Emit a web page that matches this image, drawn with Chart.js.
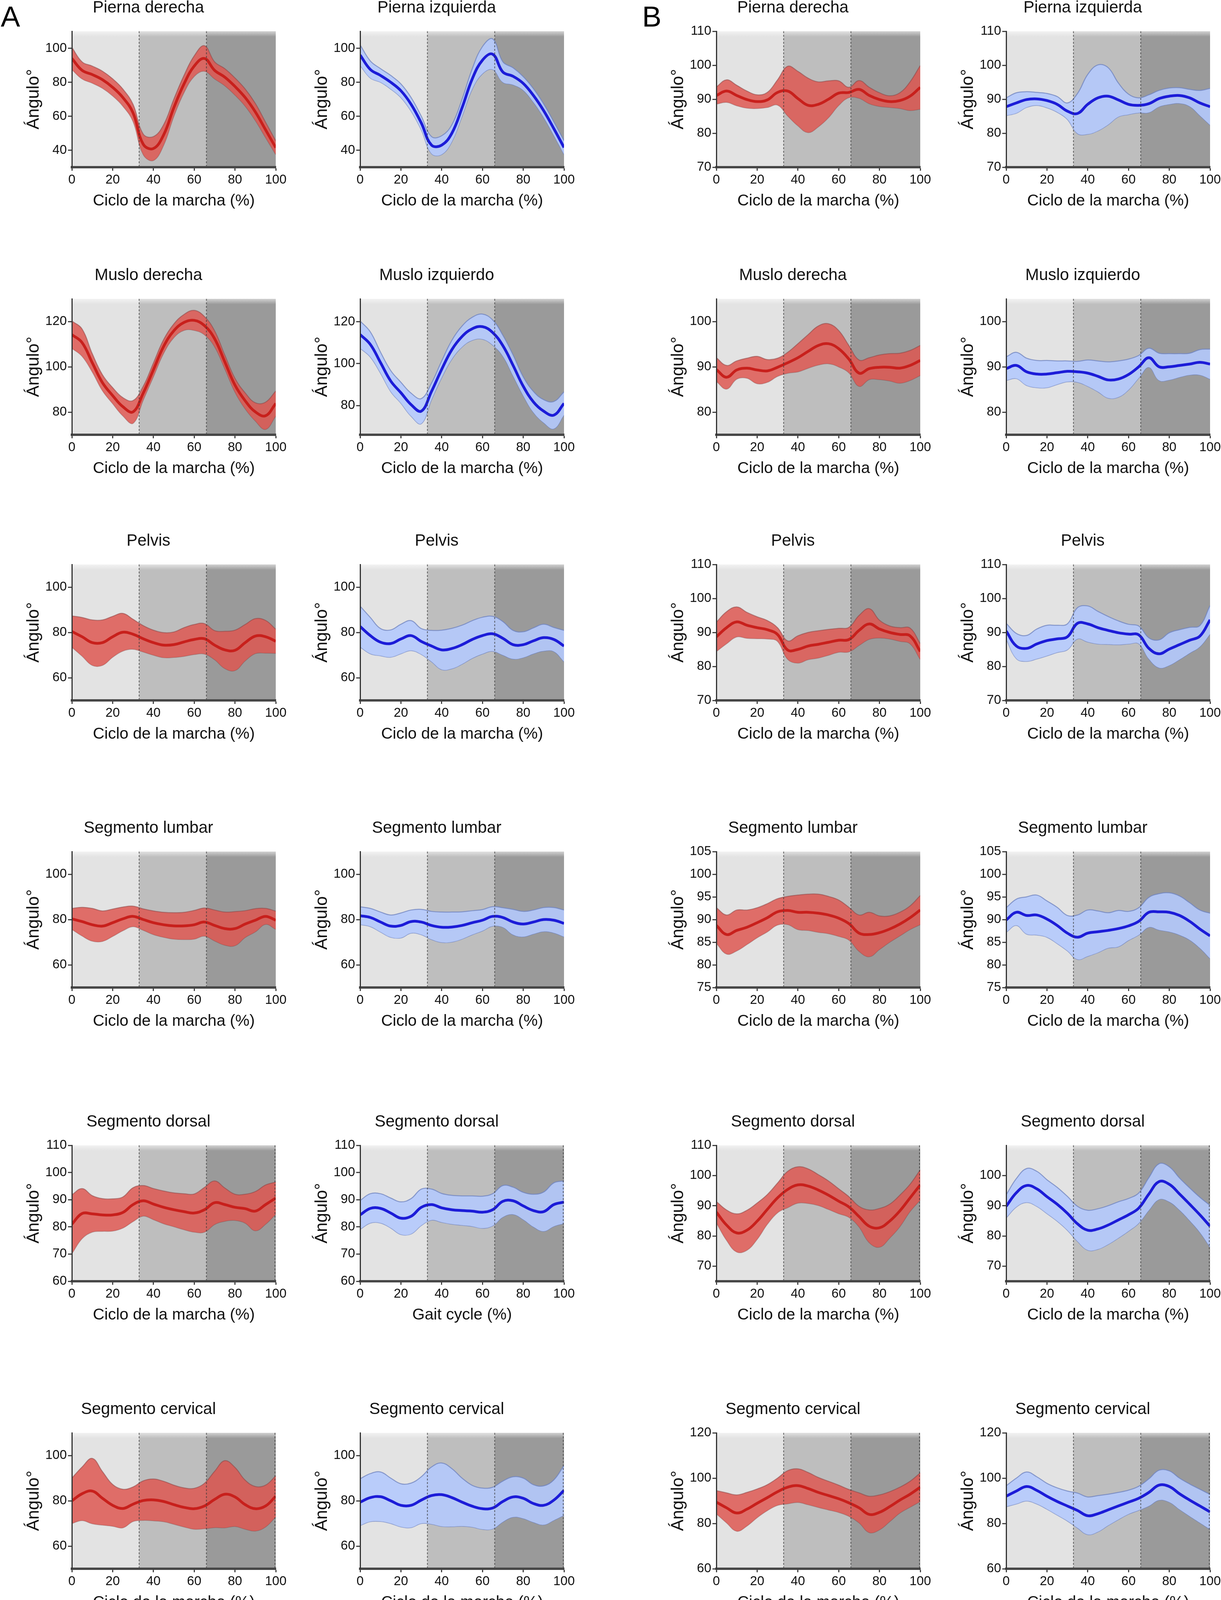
<!DOCTYPE html>
<html>
<head>
<meta charset="utf-8">
<title>Ángulo segmentario durante el ciclo de la marcha</title>
<script src="https://cdn.jsdelivr.net/npm/chart.js@4.4.1/dist/chart.umd.min.js"></script>
<style>
  html, body { margin: 0; padding: 0; background: #fff; }
  body { width: 3126px; height: 4132px; position: relative; overflow: hidden; font-family: "Liberation Sans", Arial, sans-serif; }
  .panel { position: absolute; }
  .letter { position: absolute; font-size: 74px; line-height: 1; color: #000; }
</style>
</head>
<body>
<div class="letter" style="left:2px;top:6px">A</div>
<div class="letter" style="left:1644px;top:6px">B</div>
<script>
"use strict";

// gait cycle (%) sampled every 5 %
const cycle = [0, 5, 10, 15, 20, 25, 30, 35, 40, 45, 50, 55, 60, 65, 70, 75, 80, 85, 90, 95, 100];
// phase boundaries of the gait cycle (%)
const phaseBounds = [0, 33, 66, 100];

// --- mean and SD, degrees (red = right, blue = left) ---
const legRightA = [94, 87, 84.5, 81.5, 77, 71, 62, 43.5, 41, 49, 65, 79, 89.5, 94, 87, 83, 77.5, 71, 62.5, 52, 41.5];
const legRightASd = [6.5, 5, 5, 5, 5, 5, 5, 6, 7, 6, 5, 5, 6, 7.5, 5, 5, 5, 5, 5, 4.5, 4];
const legLeftA = [96, 87.5, 84, 80, 75, 67, 56, 43, 43, 50, 65, 82, 93, 96.5, 86, 83.5, 79.3, 72.2, 63.3, 52.7, 41.6];
const legLeftASd = [6, 5, 4, 4, 4, 4, 4, 5, 5.5, 5, 5, 6, 8, 9, 6, 5, 4, 4, 4, 4, 4];
const legRightB = [91.1, 92.4, 91.1, 89.9, 89.3, 89.8, 92, 92.4, 90.2, 88.2, 88.5, 90, 91.8, 92, 92.9, 91.1, 89.9, 89.3, 89.6, 90.9, 93.5];
const legRightBSd = [2.5, 3.3, 3, 2.5, 2, 2.2, 3.7, 7.3, 8, 8, 6.6, 5.4, 3.6, 1.5, 2.6, 2.4, 2, 1.7, 2.3, 4.2, 6.4];
const legLeftB = [87.8, 88.9, 89.9, 90.1, 89.6, 88.5, 86.5, 85.8, 88.5, 90.4, 90.9, 89.8, 88.5, 88.2, 88.7, 90.2, 90.9, 91.1, 90.4, 88.9, 87.8];
const legLeftBSd = [2.6, 3, 2.3, 1.9, 2.1, 2.3, 2.4, 5.9, 8.8, 9.7, 8.4, 5, 3, 2.2, 2.6, 2.4, 2.4, 2.3, 2.5, 3.7, 5.4];

const thighRightA = [114.2, 110.7, 101.8, 93, 87.3, 82.4, 80.1, 88.4, 98.7, 109, 115.9, 119.6, 120.5, 118.2, 112.4, 102.2, 91.9, 85, 80.1, 78.4, 83.8];
const thighRightASd = [6, 6, 4, 3.5, 3.5, 4, 5, 3, 3, 3, 3, 3.5, 4.4, 4, 3.5, 3, 3, 3.5, 4, 6, 5.5];
const thighLeftA = [113.9, 109.2, 100.5, 91.7, 86.1, 80.4, 77.3, 86.7, 97.3, 106.7, 113, 116.7, 117.7, 114.9, 108.6, 99.2, 89.2, 81.7, 77.3, 75.4, 81];
const thighLeftASd = [6.5, 6, 5, 5, 5, 5.5, 6, 4, 4, 4.5, 5, 5.5, 6, 6, 5, 5, 4.5, 5, 5.5, 6.5, 5.5];
const thighRightB = [89.4, 87.7, 89.3, 89.7, 89.3, 89.1, 89.9, 90.9, 92, 93.4, 94.7, 95.1, 94, 91.7, 88.6, 89.6, 89.9, 89.9, 89.7, 90.3, 91.4];
const thighRightBSd = [2.6, 2.6, 2, 2.2, 3, 2.5, 2, 2.3, 3.1, 3.7, 4.3, 4.4, 4, 3, 2.9, 2.4, 2.7, 3, 3.3, 3.3, 3.3];
const thighLeftB = [89.6, 90.3, 88.9, 88.4, 88.4, 88.7, 89, 88.9, 88.6, 87.9, 87.1, 87.3, 88.3, 90, 92, 90, 90, 90.3, 90.6, 91, 90.6];
const thighLeftBSd = [2.6, 2.9, 3, 3, 3, 2.6, 2.3, 2.3, 2.9, 3.4, 4, 4, 3.4, 2.5, 2.1, 3, 2.9, 2.6, 2.4, 2.8, 3.3];

const pelvisRightA = [80.4, 78.1, 75.5, 75.5, 78.1, 80.1, 79.2, 77.2, 75.5, 74.4, 74.6, 75.8, 76.9, 77.2, 74.4, 72.3, 72.1, 75.5, 78.4, 78.1, 76.1];
const pelvisRightASd = [6.9, 8.5, 10, 10, 9, 8.3, 6.6, 5.8, 5.5, 5.5, 5.6, 6.3, 6.6, 6.7, 6.4, 8.2, 8.9, 8, 7.7, 7.2, 5.3];
const pelvisLeftA = [82.6, 78.6, 75.7, 75.1, 77.1, 78.6, 76, 74, 72.3, 72.9, 74.6, 76.9, 78.6, 79.4, 77.4, 74.6, 74.6, 76.3, 77.7, 76.9, 74];
const pelvisLeftASd = [9, 8, 6, 6, 6.5, 6.6, 5.7, 6.9, 8.7, 8.9, 8.6, 8.3, 8.1, 7.7, 7.4, 6.3, 5.7, 5.7, 5.9, 5.3, 6.9];
const pelvisRightB = [88.7, 91.4, 93.1, 92.1, 91.4, 90.8, 89.4, 84.8, 85, 86, 86.5, 87.1, 87.7, 87.9, 90.6, 92.5, 91, 90, 89.4, 89, 84.4];
const pelvisRightBSd = [4.3, 4.7, 4.4, 3.8, 3.2, 2.7, 2, 2.7, 4, 4, 4, 3.8, 3.5, 3.6, 4.4, 4.5, 2.6, 1.9, 2, 2.3, 2.3];
const pelvisLeftB = [90.4, 86, 85.3, 86.6, 87.6, 88.1, 88.7, 92.7, 92.5, 91.4, 90.6, 89.9, 89.5, 89.3, 85.3, 83.7, 85.1, 86.4, 87.7, 88.9, 93.7];
const pelvisLeftBSd = [2.3, 3.7, 3.8, 4.4, 4.5, 4, 3.8, 4.6, 5.3, 4.8, 4.1, 3.5, 2.9, 2.6, 3.1, 4.1, 4.8, 4.4, 3.8, 3.1, 4.2];

const lumbarRightA = [80.3, 79.1, 77.7, 77.1, 78.6, 80.3, 81.4, 80, 78.6, 77.7, 77.2, 77.2, 77.7, 78.9, 77.4, 76, 76, 78, 79.7, 81.4, 79.7];
const lumbarRightASd = [4.6, 6.3, 7.2, 6.7, 6, 5.2, 4.5, 4.7, 5.2, 5.5, 5.8, 6, 6.3, 6.2, 6.8, 7.3, 7.5, 5.9, 5.1, 3.5, 4];
const lumbarLeftA = [81.7, 80.9, 78.9, 77.1, 77.4, 79.1, 78.9, 77.4, 76.6, 76.7, 77.4, 78.6, 79.7, 81.4, 80.9, 78.9, 78, 78.9, 80, 79.7, 78.3];
const lumbarLeftASd = [3.9, 4, 4.4, 4.9, 5.5, 5.1, 5.6, 6.2, 6.7, 6.6, 6, 5.3, 4.7, 4.3, 4.3, 5.6, 5.6, 5.3, 5.3, 5.6, 5.9];
const lumbarRightB = [88.7, 86.7, 87.6, 88.3, 89.3, 90.4, 91.7, 92, 91.6, 91.6, 91.4, 91, 90.3, 89.1, 87, 86.7, 87.1, 87.9, 89, 90.4, 92.1];
const lumbarRightBSd = [3.9, 4.3, 4.5, 3.8, 3.3, 3.1, 2.9, 3.1, 3.8, 4, 4.2, 4.1, 4, 3.6, 4, 4.9, 3.7, 2.9, 2.6, 2.6, 3.2];
const lumbarLeftB = [89.9, 91.6, 90.9, 91, 90.1, 88.7, 87, 86.1, 87, 87.3, 87.6, 88, 88.6, 89.6, 91.6, 91.7, 91.6, 90.9, 89.6, 87.9, 86.4];
const lumbarLeftBSd = [2.7, 2.9, 4.1, 4.4, 4, 4, 3.9, 4.9, 5.1, 4.6, 3.9, 4, 3.2, 3, 3.3, 4, 4.3, 4.3, 4.1, 4.2, 5];

const dorsalRightA = [81, 84.9, 84.8, 84.4, 84.4, 85.3, 88.2, 89.6, 88.4, 87.2, 86.3, 85.6, 85.1, 86.3, 88.9, 88.2, 87.2, 86.7, 85.8, 88.2, 90.6];
const dorsalRightASd = [10.8, 9.2, 6.7, 6, 5.9, 5.7, 6.2, 5.6, 5.7, 6, 6.2, 6.6, 7, 8.2, 8, 6.1, 4.8, 5.3, 7.2, 7.2, 5.9];
const dorsalLeftA = [84.4, 86.8, 86.8, 85.1, 83.2, 83.9, 87.2, 88.2, 87, 86.3, 86, 85.8, 85.4, 86.3, 89.4, 89.6, 87.7, 86, 85.6, 88.2, 89.1];
const dorsalLeftASd = [5.3, 5.4, 5.4, 5.5, 6, 6.5, 6.7, 5.7, 5.3, 5.3, 5.4, 5.6, 5.9, 5.9, 5.8, 5, 5, 6, 7.2, 8, 7.8];
const dorsalRightB = [87.9, 83.6, 81, 81.9, 84.9, 88.8, 92.6, 95.4, 96.9, 96.5, 95.2, 93.5, 91.5, 89.6, 86.4, 83.2, 82.7, 84.9, 88.3, 92.6, 96.9];
const dorsalRightBSd = [3.5, 5, 6.3, 6.6, 6, 4.9, 4.9, 6, 6, 5.7, 5.1, 4.7, 4.1, 3.4, 3.4, 5.4, 6.4, 5.6, 5.2, 4.5, 5];
const dorsalLeftB = [89.8, 94.3, 96.7, 95.6, 93, 90.5, 87.5, 84, 81.9, 82.3, 83.6, 85.3, 87, 89.2, 93.9, 98, 97.1, 93.9, 90.5, 87, 83.2];
const dorsalLeftBSd = [3.8, 4.7, 5.6, 5.8, 5.6, 5.6, 5.6, 5.8, 6.6, 6.7, 6.4, 6, 5.4, 5, 5.4, 5.9, 5.8, 5.3, 5.4, 5.8, 6.9];

const cervicalRightA = [80, 83.1, 84.3, 81.1, 78, 76.6, 78.5, 80.1, 80.4, 79.7, 78.3, 77.1, 76.5, 77.7, 80.6, 82.9, 81.7, 78.3, 76.5, 77.7, 82];
const cervicalRightASd = [10, 11.8, 14.4, 11.8, 9.2, 8.5, 7.6, 8.7, 9.2, 8.9, 8.6, 8.6, 9, 10, 12.4, 14.8, 13, 10.8, 9.8, 9.2, 9];
const cervicalLeftA = [79.4, 81.4, 81.8, 80, 78, 78, 80.3, 82.3, 82.7, 81.4, 79.4, 77.6, 76.5, 76.8, 79.7, 81.7, 81.1, 78.8, 78, 80.3, 84.6];
const cervicalLeftASd = [10.3, 10.6, 10.9, 10, 9.5, 9.8, 10.3, 12.6, 14, 12.8, 10.6, 9.2, 9.1, 9.2, 9, 8.9, 8.9, 8.3, 8.6, 8.9, 11];
const cervicalRightB = [89.4, 86.9, 84.6, 86.3, 88.9, 91.4, 94, 96, 96.7, 95.4, 93.7, 92.3, 90.9, 89.1, 86.9, 84, 84.9, 87.4, 90.3, 92.9, 96];
const cervicalRightBSd = [5.1, 6.6, 8, 7.4, 6.3, 5.7, 6, 7.3, 7.4, 7.1, 6.6, 6.3, 6, 5.9, 6.6, 8, 7.7, 6.6, 5.7, 5.7, 6.3];
const cervicalLeftB = [92, 94.3, 96.3, 94.6, 92, 89.7, 87.7, 85.7, 83.4, 84.3, 86, 87.7, 89.4, 91.1, 93.7, 96.9, 96.3, 93.1, 90.3, 87.7, 85.1];
const cervicalLeftBSd = [4.6, 5.7, 6.4, 6, 5.7, 6, 6.6, 7.7, 8.3, 8, 6.9, 6, 5.3, 5.3, 6, 6.6, 6.9, 6.9, 7.1, 7.4, 7.7];

// --- y tick labels ---
const ticksLegA = [40, 60, 80, 100];
const ticks70to110 = [70, 80, 90, 100, 110];
const ticksThighA = [80, 100, 120];
const ticksThighB = [80, 90, 100];
const ticks60to100 = [60, 80, 100];
const ticksLumbarB = [75, 80, 85, 90, 95, 100, 105];
const ticksDorsalA = [60, 70, 80, 90, 100, 110];
const ticksDorsalB2 = [70, 80, 90, 100];
const ticksCervicalB = [60, 80, 100, 120];

const xTitleEs = 'Ciclo de la marcha (%)';
const xTitleEn = 'Gait cycle (%)';

// panels, row by row (two of group A then two of group B)
const panels = [
    { title: 'Pierna derecha', mean: legRightA, sd: legRightASd, side: 'right', min: 30, max: 110, ticks: ticksLegA },
    { title: 'Pierna izquierda', mean: legLeftA, sd: legLeftASd, side: 'left', min: 30, max: 110, ticks: ticksLegA },
    { title: 'Pierna derecha', mean: legRightB, sd: legRightBSd, side: 'right', min: 70, max: 110, ticks: ticks70to110 },
    { title: 'Pierna izquierda', mean: legLeftB, sd: legLeftBSd, side: 'left', min: 70, max: 110, ticks: ticks70to110 },

    { title: 'Muslo derecha', mean: thighRightA, sd: thighRightASd, side: 'right', min: 70, max: 130, ticks: ticksThighA },
    { title: 'Muslo izquierdo', mean: thighLeftA, sd: thighLeftASd, side: 'left', min: 66, max: 131, ticks: ticksThighA },
    { title: 'Muslo derecha', mean: thighRightB, sd: thighRightBSd, side: 'right', min: 75, max: 105, ticks: ticksThighB },
    { title: 'Muslo izquierdo', mean: thighLeftB, sd: thighLeftBSd, side: 'left', min: 75, max: 105, ticks: ticksThighB },

    { title: 'Pelvis', mean: pelvisRightA, sd: pelvisRightASd, side: 'right', min: 50, max: 110, ticks: ticks60to100 },
    { title: 'Pelvis', mean: pelvisLeftA, sd: pelvisLeftASd, side: 'left', min: 50, max: 110, ticks: ticks60to100 },
    { title: 'Pelvis', mean: pelvisRightB, sd: pelvisRightBSd, side: 'right', min: 70, max: 110, ticks: ticks70to110 },
    { title: 'Pelvis', mean: pelvisLeftB, sd: pelvisLeftBSd, side: 'left', min: 70, max: 110, ticks: ticks70to110 },

    { title: 'Segmento lumbar', mean: lumbarRightA, sd: lumbarRightASd, side: 'right', min: 50, max: 110, ticks: ticks60to100 },
    { title: 'Segmento lumbar', mean: lumbarLeftA, sd: lumbarLeftASd, side: 'left', min: 50, max: 110, ticks: ticks60to100 },
    { title: 'Segmento lumbar', mean: lumbarRightB, sd: lumbarRightBSd, side: 'right', min: 75, max: 105, ticks: ticksLumbarB },
    { title: 'Segmento lumbar', mean: lumbarLeftB, sd: lumbarLeftBSd, side: 'left', min: 75, max: 105, ticks: ticksLumbarB },

    { title: 'Segmento dorsal', mean: dorsalRightA, sd: dorsalRightASd, side: 'right', min: 60, max: 110, ticks: ticksDorsalA },
    { title: 'Segmento dorsal', mean: dorsalLeftA, sd: dorsalLeftASd, side: 'left', min: 60, max: 110, ticks: ticksDorsalA, xTitle: xTitleEn },
    { title: 'Segmento dorsal', mean: dorsalRightB, sd: dorsalRightBSd, side: 'right', min: 65, max: 110, ticks: ticks70to110 },
    { title: 'Segmento dorsal', mean: dorsalLeftB, sd: dorsalLeftBSd, side: 'left', min: 65, max: 110, ticks: ticksDorsalB2 },

    { title: 'Segmento cervical', mean: cervicalRightA, sd: cervicalRightASd, side: 'right', min: 50, max: 110, ticks: ticks60to100 },
    { title: 'Segmento cervical', mean: cervicalLeftA, sd: cervicalLeftASd, side: 'left', min: 50, max: 110, ticks: ticks60to100 },
    { title: 'Segmento cervical', mean: cervicalRightB, sd: cervicalRightBSd, side: 'right', min: 60, max: 120, ticks: ticksCervicalB },
    { title: 'Segmento cervical', mean: cervicalLeftB, sd: cervicalLeftBSd, side: 'left', min: 60, max: 120, ticks: ticksCervicalB }
];

// --- layout (page pixels) ---
var FONT = '"Liberation Sans", Arial, Helvetica, sans-serif';
var colLeft = [184, 922, 1834, 2576];
var rowTop = [80, 765, 1445, 2180, 2932, 3668];
var PLOT_W = 522, PLOT_H = 348;
var AXIS_W = 130, TITLE_H = 100, XAXIS_H = 114, RIGHT_PAD = 44;

var palette = {
    right: { line: '#c8201c', band: 'rgba(222, 86, 80, 0.84)', edge: 'rgba(140, 70, 70, 0.55)' },
    left: { line: '#1c1cd8', band: 'rgba(180, 201, 252, 0.9)', edge: 'rgba(110, 130, 190, 0.75)' }
};
var zoneColors = ['#e3e3e3', '#bebebe', '#9a9a9a'];

var gaitZones = {
    id: 'gaitZones',
    beforeDatasetsDraw: function (chart) {
        var ctx = chart.ctx, a = chart.chartArea, x = chart.scales.x;
        ctx.save();
        for (var i = 0; i < phaseBounds.length - 1; i++) {
            var x0 = x.getPixelForValue(phaseBounds[i]);
            var x1 = x.getPixelForValue(phaseBounds[i + 1]);
            ctx.fillStyle = zoneColors[i];
            ctx.fillRect(x0, a.top, x1 - x0, a.bottom - a.top);
        }
        // soft light strip along the top edge
        var g = ctx.createLinearGradient(0, a.top, 0, a.top + 14);
        g.addColorStop(0, 'rgba(255,255,255,0.55)');
        g.addColorStop(1, 'rgba(255,255,255,0)');
        ctx.fillStyle = g;
        ctx.fillRect(a.left, a.top, a.right - a.left, 14);
        ctx.restore();
    },
    afterDatasetsDraw: function (chart, args, opts) {
        var ctx = chart.ctx, a = chart.chartArea, x = chart.scales.x;
        var marks = phaseBounds.slice(1, opts.edge ? phaseBounds.length : phaseBounds.length - 1);
        ctx.save();
        ctx.strokeStyle = 'rgba(55, 55, 55, 0.75)';
        ctx.lineWidth = 2;
        ctx.setLineDash([5, 4]);
        marks.forEach(function (v) {
            var px = Math.min(x.getPixelForValue(v), a.right - 2);
            ctx.beginPath();
            ctx.moveTo(px, a.top);
            ctx.lineTo(px, a.bottom);
            ctx.stroke();
        });
        ctx.restore();
    }
};

panels.forEach(function (p, i) {
    var row = Math.floor(i / 4), col = i % 4;
    var box = document.createElement('div');
    box.className = 'panel';
    box.style.left = (colLeft[col] - AXIS_W) + 'px';
    box.style.top = (rowTop[row] - TITLE_H) + 'px';
    var canvas = document.createElement('canvas');
    canvas.width = AXIS_W + PLOT_W + RIGHT_PAD;
    canvas.height = TITLE_H + PLOT_H + XAXIS_H;
    canvas.style.width = canvas.width + 'px';
    canvas.style.height = canvas.height + 'px';
    box.appendChild(canvas);
    document.body.appendChild(box);

    var pal = palette[p.side];
    var toPoints = function (vals) {
        return cycle.map(function (c, k) { return { x: c, y: vals[k] }; });
    };
    var upper = p.mean.map(function (m, k) { return m + p.sd[k]; });
    var lower = p.mean.map(function (m, k) { return m - p.sd[k]; });

    new Chart(canvas.getContext('2d'), {
        type: 'line',
        data: {
            datasets: [
                { data: toPoints(p.mean), borderColor: pal.line, borderWidth: 7, pointRadius: 0, tension: 0.4, fill: false },
                { data: toPoints(upper), borderColor: pal.edge, borderWidth: 2.5, backgroundColor: pal.band, pointRadius: 0, tension: 0.4, fill: '+1' },
                { data: toPoints(lower), borderColor: pal.edge, borderWidth: 2.5, pointRadius: 0, tension: 0.4, fill: false }
            ]
        },
        plugins: [gaitZones],
        options: {
            responsive: false,
            animation: false,
            devicePixelRatio: 1,
            events: [],
            layout: { padding: { left: 0, right: RIGHT_PAD, top: 0, bottom: 0 } },
            plugins: {
                legend: { display: false },
                tooltip: { enabled: false },
                title: {
                    display: true,
                    text: p.title,
                    color: '#111',
                    font: { family: FONT, size: 42, weight: 'normal' },
                    padding: { top: 15, bottom: 34.6 }
                },
                gaitZones: { edge: row >= 4 }
            },
            scales: {
                x: {
                    type: 'linear',
                    min: 0,
                    max: 100,
                    ticks: { stepSize: 20, color: '#111', font: { family: FONT, size: 33 }, padding: 4, maxRotation: 0 },
                    grid: { drawOnChartArea: false, tickLength: 9, tickColor: '#444', tickWidth: 3 },
                    border: { color: '#474747', width: 6, z: 1 },
                    title: { display: true, text: p.xTitle || xTitleEs, color: '#111', font: { family: FONT, size: 41 }, padding: { top: 0, bottom: 3 } },
                    afterFit: function (s) { s.height = XAXIS_H; }
                },
                y: {
                    type: 'linear',
                    min: p.min,
                    max: p.max,
                    afterBuildTicks: function (s) {
                        s.ticks = p.ticks.map(function (v) { return { value: v }; });
                    },
                    ticks: { autoSkip: false, color: '#111', font: { family: FONT, size: 33 }, padding: 3 },
                    grid: { drawOnChartArea: false, tickLength: 10, tickColor: '#444', tickWidth: 3 },
                    border: { color: '#333', width: 3, z: 1 },
                    title: { display: true, text: 'Ángulo°', color: '#111', font: { family: FONT, size: 44 }, padding: { top: 6, bottom: 0 } },
                    afterFit: function (s) { s.width = AXIS_W; }
                }
            }
        }
    });
});
</script>
</body>
</html>
